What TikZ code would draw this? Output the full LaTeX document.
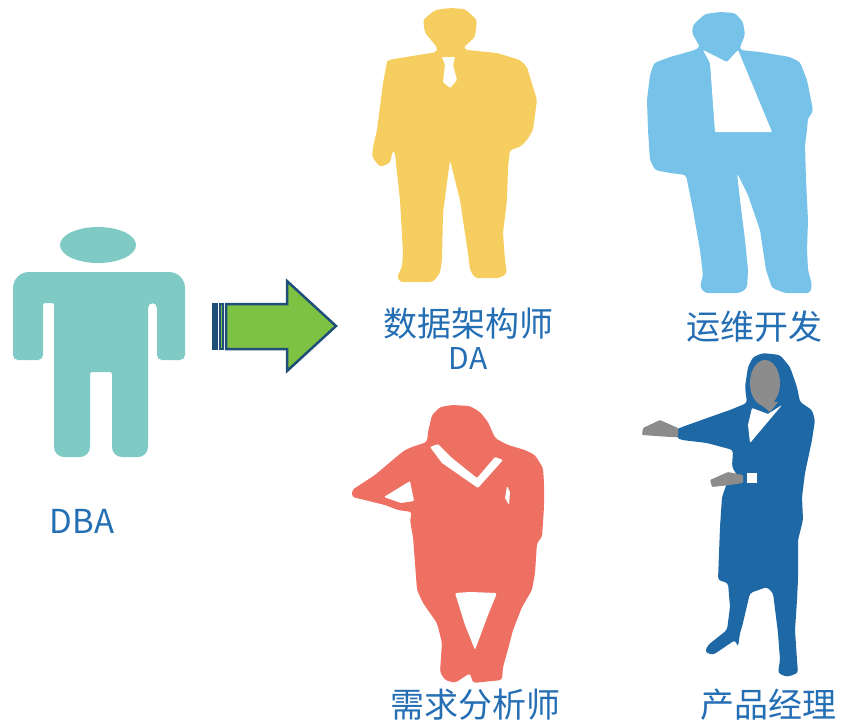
\documentclass[tikz,border=0pt]{standalone}
\usepackage{fontspec}
\setmainfont{Noto Sans CJK SC}
\definecolor{dbateal}{RGB}{127,202,196}
\definecolor{dayellow}{RGB}{246,206,95}
\definecolor{opsblue}{RGB}{118,194,233}
\definecolor{reqsalmon}{RGB}{238,112,98}
\definecolor{pmblue}{RGB}{30,104,166}
\definecolor{skingray}{RGB}{140,140,140}
\definecolor{arrowgreen}{RGB}{125,194,66}
\definecolor{arrowdark}{RGB}{31,78,121}
\definecolor{textblue}{RGB}{36,110,180}
\begin{document}
\begin{tikzpicture}[x=1pt,y=-1pt,
    roletext/.style={text=textblue,inner sep=0pt,font=\fontsize{34}{36}\selectfont},
    latintext/.style={text=textblue,inner sep=0pt,font=\fontsize{30}{32}\selectfont}]
\useasboundingbox (0,0) rectangle (844,721);
% DBA icon
\fill[dbateal] (98,245) ellipse [x radius=38, y radius=18];
\fill[dbateal] (13,300) [rounded corners=16] -- (13,272) -- (185,272) [rounded corners=5] -- (185,360) -- (157,360) -- (157,303) -- (148,303) [rounded corners=10] -- (148,457) -- (112,457) [rounded corners=2] -- (112,372) -- (90,372) [rounded corners=10] -- (90,457) -- (54,457) [rounded corners=2] -- (54,303) -- (43,303) [rounded corners=5] -- (43,360) -- (13,360) -- cycle;
% striped arrow
\fill[arrowdark] (212,303) rectangle (218,350);
\draw[arrowdark,fill=arrowgreen,line width=2] (220,304) rectangle (223,349);
\draw[arrowdark,fill=arrowgreen,line width=2.5] (226,304) -- (287,304) -- (287,281) -- (336,326) -- (287,371) -- (287,349) -- (226,349) -- cycle;
% architect
\fill[dayellow,rounded corners=3] (450,8) -- (465,9) -- (477,20) -- (475,37) -- (463,48) -- (467,50) -- (497,53) -- (520,60) -- (527,67) -- (533,87) -- (537,100) -- (533,130) -- (527,140) -- (520,147) -- (510,150) -- (508,167) -- (507,200) -- (503,233) -- (505,260) -- (507,273) -- (500,278) -- (475,278) -- (470,270) -- (468,253) -- (460,200) -- (450,160) -- (443,213) -- (442,260) -- (440,273) -- (433,282) -- (400,282) -- (397,277) -- (402,267) -- (403,253) -- (400,200) -- (397,173) -- (395,153) -- (393,150) -- (390,163) -- (380,167) -- (372,157) -- (373,147) -- (377,130) -- (383,83) -- (387,62) -- (388,60) -- (437,52) -- (437,47) -- (425,33) -- (423,20) -- (435,10) -- cycle;
\fill[white,rounded corners=1] (442,57) -- (455,57) -- (453,65) -- (457,80) -- (450,88) -- (443,82) -- (445,65) -- cycle;
% ops
\fill[opsblue,rounded corners=3] (720,12) -- (735,13) -- (743,22) -- (745,35) -- (740,47) -- (740,50) -- (760,52) -- (790,57) -- (800,62) -- (807,80) -- (812,105) -- (813,112) -- (808,118) -- (807,130) -- (805,145) -- (806,180) -- (808,220) -- (807,250) -- (808,270) -- (812,285) -- (810,293) -- (785,293) -- (772,288) -- (766,270) -- (760,230) -- (748,195) -- (737,173) -- (740,200) -- (745,240) -- (748,270) -- (747,288) -- (740,293) -- (705,293) -- (700,287) -- (703,275) -- (700,250) -- (693,210) -- (686,175) -- (670,173) -- (655,170) -- (650,160) -- (648,130) -- (647,100) -- (650,75) -- (654,63) -- (670,57) -- (695,50) -- (700,47) -- (692,33) -- (693,25) -- (705,14) -- cycle;
\fill[white,rounded corners=1] (703,50) -- (727,62) -- (738,50) -- (772,132) -- (715,132) -- (710,63) -- cycle;
% analyst
\fill[reqsalmon,rounded corners=3] (452,405) -- (470,406) -- (480,412) -- (488,422) -- (495,438) -- (502,442) -- (508,445) -- (525,450) -- (535,455) -- (543,468) -- (544,483) -- (544,507) -- (542,537) -- (537,543) -- (535,573) -- (532,590) -- (522,607) -- (513,630) -- (507,653) -- (503,667) -- (502,680) -- (473,683) -- (470,673) -- (455,683) -- (445,680) -- (440,672) -- (442,643) -- (437,623) -- (423,603) -- (417,590) -- (415,563) -- (413,537) -- (410,520) -- (412,512) -- (398,510) -- (385,505) -- (365,500) -- (352,497) -- (352,490) -- (375,475) -- (395,458) -- (405,450) -- (412,447) -- (427,442) -- (428,432) -- (432,415) -- (440,407) -- cycle;
\fill[white,rounded corners=1] (384,497) -- (410,481) -- (414,501) -- (401,503) -- cycle;
\fill[white,rounded corners=1] (430,447) -- (438,444) -- (452,458) -- (477,478) -- (495,457) -- (503,460) -- (478,488) -- (442,463) -- cycle;
\fill[white,rounded corners=1] (507,486) -- (510,492) -- (509,505) -- (505,498) -- cycle;
\fill[white,rounded corners=2] (455,593) -- (470,592) -- (497,593) -- (488,615) -- (475,650) -- (465,625) -- cycle;
% product manager
\fill[pmblue,rounded corners=3] (763,353) -- (780,355) -- (790,367) -- (797,387) -- (800,402) -- (812,410) -- (815,420) -- (812,440) -- (805,473) -- (802,497) -- (803,520) -- (798,540) -- (798,580) -- (797,600) -- (795,630) -- (797,660) -- (798,673) -- (787,677) -- (778,673) -- (780,660) -- (778,633) -- (773,593) -- (767,587) -- (750,593) -- (742,627) -- (740,633) -- (738,647) -- (735,640) -- (713,655) -- (705,652) -- (708,645) -- (727,630) -- (730,607) -- (728,583) -- (718,580) -- (720,527) -- (722,497) -- (727,483) -- (740,480) -- (732,467) -- (733,450) -- (707,443) -- (682,440) -- (677,438) -- (675,430) -- (682,427) -- (710,417) -- (730,410) -- (747,403) -- (745,387) -- (748,367) -- (753,357) -- cycle;
\fill[skingray] (765,383) ellipse [x radius=15, y radius=23];
\fill[skingray] (755,400) -- (770,412) -- (778,402) -- cycle;
\fill[white,rounded corners=1] (752,408) -- (768,414) -- (782,405) -- (750,443) -- (748,425) -- cycle;
\fill[skingray,rounded corners=1] (678,428) -- (660,420) -- (643,428) -- (642,435) -- (670,437) -- (678,437) -- cycle;
\fill[skingray,rounded corners=1] (743,475) -- (728,472) -- (710,480) -- (712,487) -- (730,485) -- (743,483) -- cycle;
\fill[white] (747,473) rectangle (757,483);
% role labels
\node[latintext,font=\fontsize{33}{35}\selectfont] (dba) at (82,521) {DBA};
\node[roletext] (architect) at (468,324) {数据架构师};
\node[latintext] (da) at (468,358) {DA};
\node[roletext] (ops) at (754,327) {运维开发};
\node[roletext] (analyst) at (475,705) {需求分析师};
\node[roletext] (pm) at (768,705) {产品经理};
\end{tikzpicture}
\end{document}
